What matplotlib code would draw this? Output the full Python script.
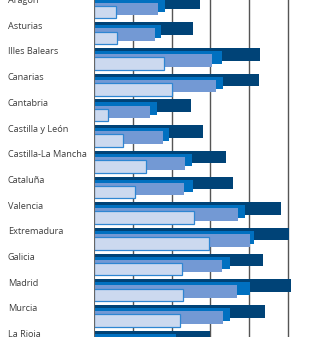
import matplotlib.pyplot as plt
from matplotlib.transforms import blended_transform_factory

plt.rcParams['font.family'] = ['Open Sans', 'DejaVu Sans']

regiones = ["Aragón", "Asturias", "Illes Balears", "Canarias", "Cantabria",
            "Castilla y León", "Castilla-La Mancha", "Cataluña", "Valencia",
            "Extremadura", "Galicia", "Madrid", "Murcia", "La Rioja"]

# cuatro series, de la más oscura (atrás) a la más clara (delante)
serie1 = [27.3, 25.5, 42.8, 42.5, 25.0, 28.1, 34.0, 35.8, 48.2, 50.3, 43.6, 50.8, 44.1, 29.9]
serie2 = [18.3, 17.3, 33.0, 33.2, 16.2, 19.3, 25.3, 25.5, 38.9, 41.2, 35.1, 40.2, 35.1, 21.1]
serie3 = [16.4, 15.7, 30.4, 31.4, 14.4, 17.7, 23.5, 23.2, 37.1, 40.2, 33.0, 36.9, 33.2, 19.0]
serie4 = [5.7, 5.9, 18.1, 20.1, 3.6, 7.5, 13.3, 10.6, 25.8, 29.6, 22.7, 22.9, 22.2, 8.0]

colores = ["#004377", "#0070c0", "#7399d4", "#ccd9ef"]
series = [serie1, serie2, serie3, serie4]

fig = plt.figure(figsize=(3.23, 3.37), dpi=100)
ax = fig.add_axes([94 / 323, 0, 1 - 94 / 323, 1])

y = list(range(len(regiones)))
alto = 0.49
desp = [-0.18, -0.06, 0.06, 0.18]

for k in range(4):
    pos = [i + desp[k] for i in y]
    if k == 3:
        ax.barh(pos, series[k], height=alto, color=colores[k],
                edgecolor="#2f86d2", linewidth=0.9, zorder=3 + k)
    else:
        ax.barh(pos, series[k], height=alto, color=colores[k], zorder=3 + k)

for xv in [10, 20, 30, 40, 50]:
    ax.axvline(xv, color="#555555", lw=1.0, zorder=1)
ax.axvline(0, color="#666666", lw=0.8, zorder=10)

ax.set_xlim(0, 59.0)
ax.set_ylim(12.82, -0.293)
ax.axis("off")

trans = blended_transform_factory(fig.transFigure, ax.transData)
for i, r in enumerate(regiones):
    ax.text(8 / 323, i - 0.27, r, transform=trans, ha="left", va="center",
            fontsize=6.6, color="#3d3d3d", clip_on=False)

fig.savefig("out.png", dpi=100)
